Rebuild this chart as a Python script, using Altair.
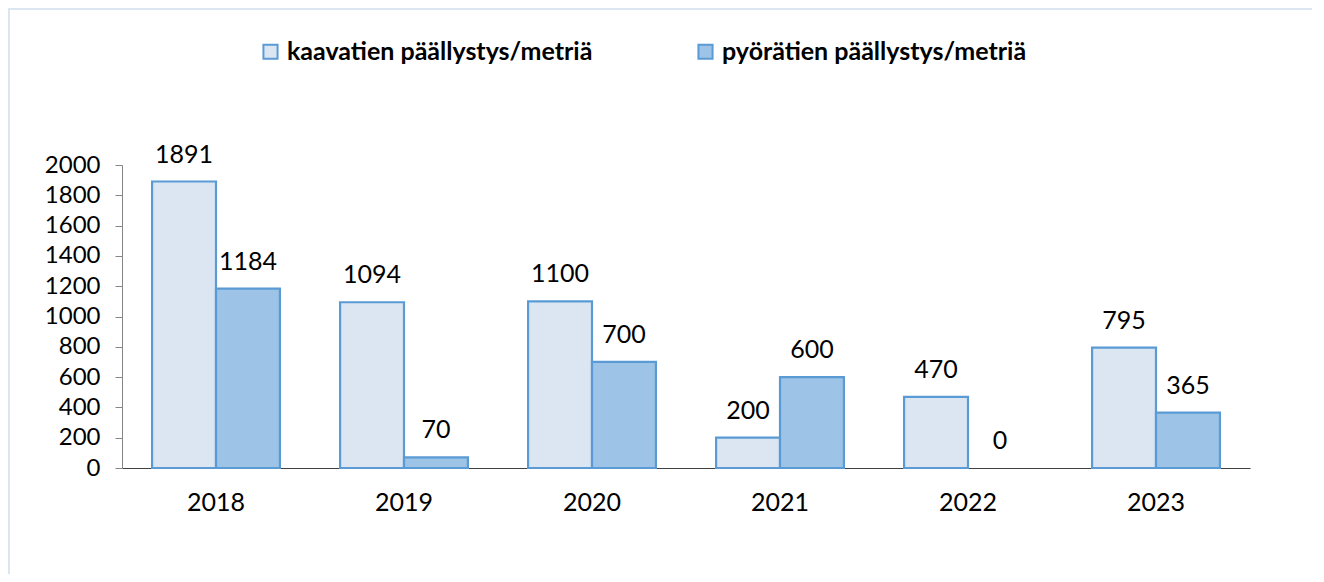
import altair as alt
import pandas as pd

years = ["2018", "2019", "2020", "2021", "2022", "2023"]
kaava = [1891, 1094, 1100, 200, 470, 795]
pyora = [1184, 70, 700, 600, 0, 365]
series = ["kaavatien päällystys/metriä", "pyörätien päällystys/metriä"]
colors = ["#DCE6F2", "#9DC3E6"]

rows = []
for i, y in enumerate(years):
    rows.append({"vuosi": y, "sarja": series[0], "arvo": kaava[i]})
    rows.append({"vuosi": y, "sarja": series[1], "arvo": pyora[i]})
df = pd.DataFrame(rows)

FONT = "Lato"
FS = 25

x = alt.X("vuosi:N", sort=years, title=None,
          scale=alt.Scale(paddingInner=0.32, paddingOuter=0.16),
          axis=alt.Axis(labelAngle=0, ticks=False, labelFontSize=FS, labelFont=FONT,
                        labelColor="#000000", labelPadding=22, domainColor="#404040",
                        domainWidth=1.2))
xo = alt.XOffset("sarja:N", sort=series, scale=alt.Scale(paddingInner=0, paddingOuter=0))
y = alt.Y("arvo:Q", title=None,
          scale=alt.Scale(domain=[0, 2000], nice=False),
          axis=alt.Axis(values=list(range(0, 2001, 200)), format="d", grid=False, tickSize=7,
                        tickColor="#868686", domainColor="#868686", labelFontSize=24,
                        labelFont=FONT, labelColor="#000000", labelPadding=15))

base = alt.Chart(df)

bars = base.mark_bar(stroke="#5B9BD5", strokeWidth=2.2).encode(
    x=x, xOffset=xo, y=y,
    strokeOpacity=alt.condition("datum.arvo > 0", alt.value(1), alt.value(0)),
    fill=alt.Fill("sarja:N", sort=series,
                  scale=alt.Scale(domain=series, range=colors),
                  legend=alt.Legend(title=None, orient="none", legendX=136, legendY=-126,
                                    direction="horizontal", columns=2, columnPadding=100,
                                    symbolType="square", symbolSize=200,
                                    symbolStrokeColor="#5B9BD5", symbolStrokeWidth=2,
                                    labelFont=FONT, labelFontSize=25, labelFontWeight="bold",
                                    labelColor="#000000", labelOffset=4, labelLimit=500)),
)

labels = base.mark_text(dy=-27, fontSize=FS, font=FONT, color="#000000", baseline="middle").encode(
    x=x, xOffset=xo, y=y, text=alt.Text("arvo:Q"),
)

frame = alt.Chart(alt.Data(values=[{}])).mark_rule(color="#DCE6F2", strokeWidth=2).encode(
    x=alt.value(-114), x2=alt.value(1190), y=alt.value(-156)
)
frame2 = alt.Chart(alt.Data(values=[{}])).mark_rule(color="#DCE6F2", strokeWidth=2).encode(
    x=alt.value(-113), y=alt.value(-156), y2=alt.value(409)
)

chart = alt.layer(frame, frame2, bars, labels).properties(
    width=1128, height=303,
    autosize=alt.AutoSizeParams(type="none"),
    padding={"left": 114, "top": 157, "right": 66, "bottom": 106},
    background="#FFFFFF",
).configure_view(stroke=None)

chart.save("out.html", embed_options={"renderer": "svg", "actions": False})
